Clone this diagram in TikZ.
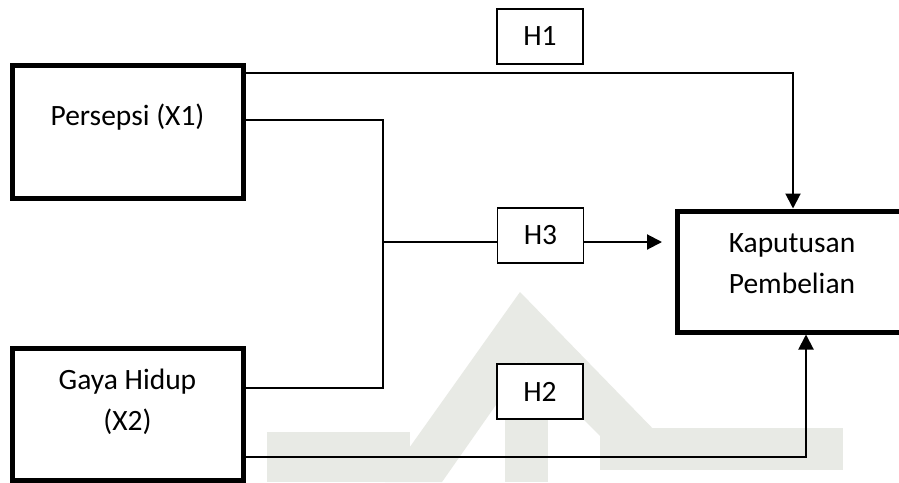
\documentclass[tikz,border=0pt]{standalone}
\usepackage{fontspec}
\setmainfont{Carlito}
\usetikzlibrary{arrows.meta,calc}
\definecolor{wmgray}{RGB}{232,234,229}
\begin{document}
\begin{tikzpicture}[x=1pt,y=-1pt,
  varbox/.style={draw, line width=5pt, rectangle, inner sep=0pt, fill=white},
  hbox/.style={draw, line width=1.2pt, rectangle, inner sep=0pt,
    minimum width=86pt, minimum height=55pt, fill=white,
    font=\fontsize{29.5}{41}\selectfont},
  conn/.style={line width=2pt},
  arr/.style={conn, -{Triangle[length=15pt,width=15pt]}},
  lbl/.style={font=\fontsize{29.5}{41}\selectfont, align=center,
    inner sep=0pt, anchor=base},
  wm/.style={fill=wmgray, draw=none}]
\useasboundingbox (0,0) rectangle (899,482);
\fill[white] (0,0) rectangle (899,482);

% faint background emblem
\fill[wm] (385,482) -- (520,292) -- (660,436) -- (600,436) -- (526,362) -- (442,482) -- cycle;
\fill[wm] (505,365) rectangle (548,482);
\fill[wm] (267,432) rectangle (410,482);
\fill[wm] (600,428) rectangle (843,470);

% variable boxes
\node[varbox, minimum width=231pt, minimum height=133pt] (x1) at (127.5,131.5) {};
\node[varbox, minimum width=231pt, minimum height=132pt] (x2) at (127.5,414) {};
\node[varbox, minimum width=243pt, minimum height=121pt] (kp) at (798.5,271.5) {};

% labels (base anchor sits on the last line)
\node[lbl] (x1t) at (127.5,125) {Persepsi (X1)};
\node[lbl] (x2t) at (127.5,430) {Gaya Hidup\\(X2)};
\node[lbl] (kpt) at (792,293) {Kaputusan\\Pembelian};

% hypothesis labels
\node[hbox] (h1) at (540,36.5) {H1};
\node[hbox] (h3) at (540.5,235.5) {H3};
\node[hbox] (h2) at (540,391.5) {H2};

% junction of the joint path
\coordinate (jt) at (383,120);
\coordinate (jm) at (383,242);
\coordinate (jb) at (383,388);
\coordinate (h3end) at (662,242);

% connectors
\draw[arr] (x1.east |- 0,73) -| ([xshift=-5.5pt]kp.north);
\draw[conn] (x1.east |- jt) -- (jt) -- (jb) -- (x2.east |- jb);
\draw[conn] (jm) -- (h3.west |- jm);
\draw[arr] (h3.east |- jm) -- (h3end);
\draw[arr] (x2.east |- 0,457) -| ([xshift=7.5pt]kp.south);
\end{tikzpicture}
\end{document}
